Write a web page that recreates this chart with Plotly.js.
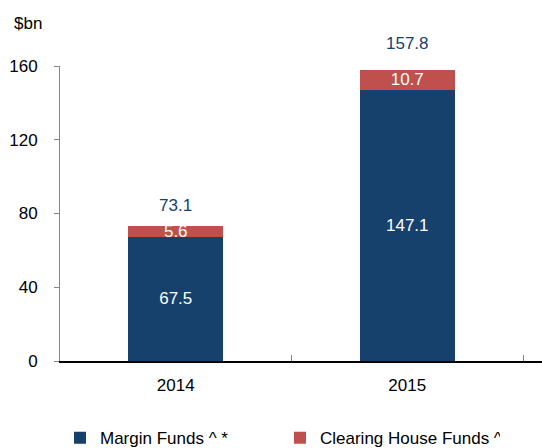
<!DOCTYPE html>
<html>
<head>
<meta charset="utf-8">
<script src="https://cdn.plot.ly/plotly-3.0.1.min.js"></script>
<style>html,body{margin:0;padding:0;background:#fff;}#chart{width:542px;height:448px;}</style>
</head>
<body>
<div id="chart"></div>
<script>
var categories = ["2014", "2015"];
var marginFunds = [67.5, 147.1];
var clearingFunds = [5.6, 10.7];
var totals = [73.1, 157.8];
var yTicks = [0, 40, 80, 120, 160];

var FONT = "Arial, 'Liberation Sans', sans-serif";
var BLUE = "#17416d";
var RED = "#c0504d";

var traces = [
  {
    type: "bar", name: "Margin Funds ^ *", x: categories, y: marginFunds,
    marker: {color: BLUE},
    text: marginFunds.map(function(v){return v.toFixed(1);}),
    textposition: "inside", insidetextanchor: "middle", constraintext: "none",
    textfont: {color: "#ffffff", size: 17, family: FONT},
    hoverinfo: "none"
  },
  {
    type: "bar", name: "Clearing House Funds ^", x: categories, y: clearingFunds,
    marker: {color: RED},
    text: clearingFunds.map(function(v){return v.toFixed(1);}),
    textposition: "inside", insidetextanchor: "middle", constraintext: "none",
    textfont: {color: "#ffffff", size: 17, family: FONT},
    hoverinfo: "none"
  }
];

var shifts = [21, 27];
var annotations = categories.map(function(c, i){
  return {x: i, y: totals[i], xref: "x", yref: "y", text: totals[i].toFixed(1),
    showarrow: false, yanchor: "middle", yshift: shifts[i],
    font: {color: BLUE, size: 17, family: FONT}};
});
annotations.push({xref: "paper", yref: "paper", x: (12 - 60) / 482, y: (361 - 23) / 295,
  xanchor: "left", yanchor: "middle", text: "$bn", showarrow: false,
  font: {color: "#000", size: 17, family: FONT}});

var layout = {
  width: 542, height: 448,
  margin: {l: 60, r: 0, t: 66, b: 87, pad: 0, autoexpand: false},
  paper_bgcolor: "#fff", plot_bgcolor: "#fff",
  barmode: "stack", bargap: 0.59,
  showlegend: true,
  legend: {orientation: "h", x: 0.0, xanchor: "left", y: -0.262, yanchor: "middle",
    font: {size: 17, family: FONT, color: "#000"}, traceorder: "normal",
    entrywidth: 175, entrywidthmode: "pixels", itemclick: false, itemdoubleclick: false},
  font: {family: FONT, size: 17, color: "#000"},
  xaxis: {type: "category", range: [-0.5, 1.582], showgrid: false, zeroline: false,
    showline: true, linecolor: "#000", linewidth: 1.5,
    ticks: "inside", tickson: "boundaries", ticklen: 6, tickcolor: "#7f7f7f", tickwidth: 1,
    tickfont: {size: 17, family: FONT, color: "#000"}, ticklabelstandoff: 8, fixedrange: true},
  yaxis: {range: [0, 160], tickvals: yTicks, ticktext: yTicks.map(String),
    showgrid: false, zeroline: false, showline: true, linecolor: "#868686", linewidth: 1,
    ticks: "outside", ticklen: 5, tickcolor: "#868686",
    tickfont: {size: 17, family: FONT, color: "#000"}, ticklabelstandoff: 13, fixedrange: true},
  annotations: annotations
};

Plotly.newPlot("chart", traces, layout, {displayModeBar: false, staticPlot: true});
</script>
</body>
</html>
